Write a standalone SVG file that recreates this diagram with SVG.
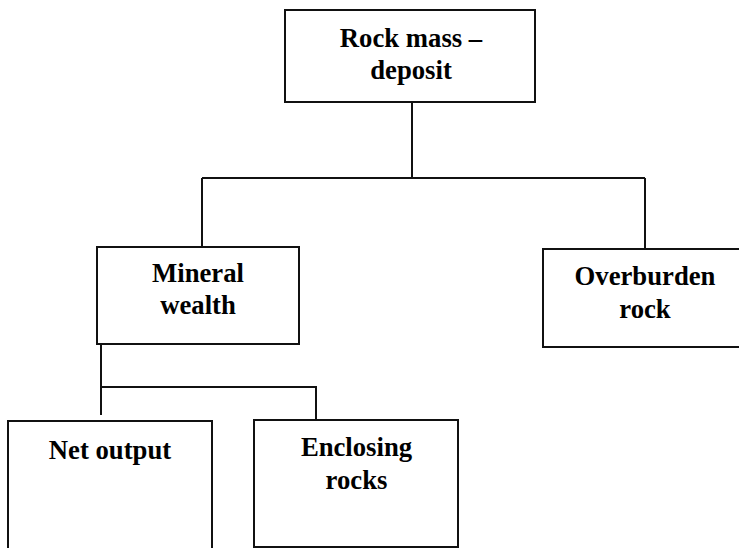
<svg xmlns="http://www.w3.org/2000/svg" width="739" height="548" viewBox="0 0 739 548">
<style>
.box{fill:#fff;stroke:#111;stroke-width:2}
.ln{fill:none;stroke:#111;stroke-width:2}
text{font-family:"Liberation Serif","Times New Roman",serif;font-weight:bold;font-size:26.7px;fill:#000;text-anchor:middle}
</style>
<rect width="739" height="548" fill="#fff"/>
<g id="connectors">
<path class="ln" d="M412,102 V178"/>
<path class="ln" d="M202,178 H645"/>
<path class="ln" d="M202,178 V247"/>
<path class="ln" d="M645,178 V249"/>
<path class="ln" d="M101,344 V415"/>
<path class="ln" d="M101,387 H316 V420"/>
</g>
<g id="rock-mass-deposit">
<rect class="box" x="285" y="10" width="250" height="92"/>
<text x="411" y="46.7">Rock mass –</text>
<text x="411" y="79">deposit</text>
</g>
<g id="mineral-wealth">
<rect class="box" x="97" y="247" width="202" height="97"/>
<text x="198" y="282.3">Mineral</text>
<text x="198" y="314.3">wealth</text>
</g>
<g id="overburden-rock">
<rect class="box" x="543" y="249" width="200" height="98"/>
<text x="645" y="285">Overburden</text>
<text x="645" y="318">rock</text>
</g>
<g id="net-output">
<rect class="box" x="8" y="421" width="204" height="140"/>
<text x="110" y="458.7">Net output</text>
</g>
<g id="enclosing-rocks">
<rect class="box" x="254" y="420" width="204" height="127"/>
<text x="356.5" y="455.5">Enclosing</text>
<text x="356.5" y="488.5">rocks</text>
</g>
</svg>
